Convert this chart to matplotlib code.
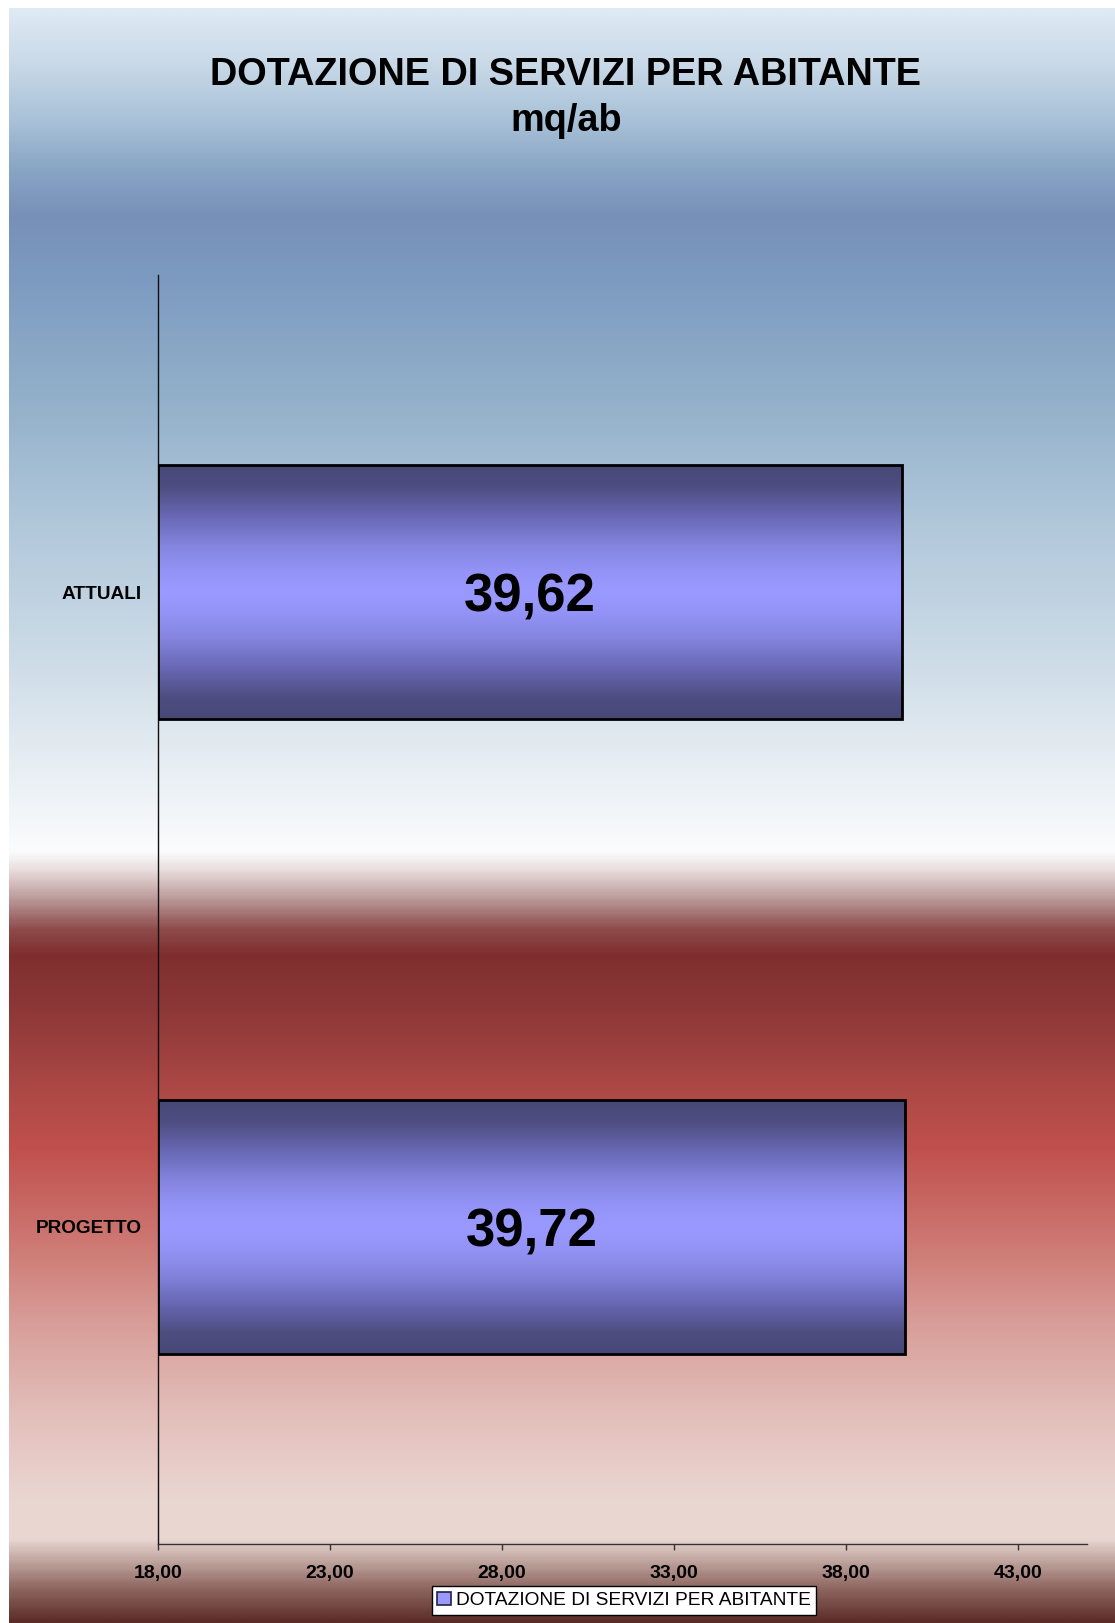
import numpy as np
import matplotlib
matplotlib.use("Agg")
import matplotlib.pyplot as plt
from matplotlib.colors import LinearSegmentedColormap
from matplotlib.patches import Rectangle, Patch
from matplotlib.ticker import FuncFormatter, FixedLocator

# ---- data ----
categories = ["ATTUALI", "PROGETTO"]
values = [39.62, 39.72]
series_name = "DOTAZIONE DI SERVIZI PER ABITANTE"
title_line1 = "DOTAZIONE DI SERVIZI PER ABITANTE"
title_line2 = "mq/ab"
x_ticks = [18, 23, 28, 33, 38, 43]
x_min, x_max = 18, 45

W, H = 1115, 1623
DPI = 100
plt.rcParams['font.family'] = ['Liberation Sans', 'DejaVu Sans']

fig = plt.figure(figsize=(W / DPI, H / DPI), dpi=DPI, facecolor="white")

def fx(px):
    return px / W

def fy(py):
    return 1 - py / H

# ---- background gradient panel ----
bg_top, bg_left = 8, 9
stops_px = [
    (8, "#dfeaf4"), (60, "#cadae8"), (120, "#a8c1d7"), (170, "#88a4c5"),
    (215, "#7790b8"), (280, "#7d9bc0"), (400, "#93b0ca"), (520, "#b0c7da"),
    (650, "#cbdae6"), (760, "#e6edf3"), (852, "#fbfcfd"), (872, "#e7d9d9"),
    (900, "#b99696"), (930, "#8e4a4a"), (955, "#7f2e2e"), (1010, "#8d3838"),
    (1100, "#b04a47"), (1150, "#c0504d"), (1250, "#ce7b76"), (1330, "#d9a09b"),
    (1420, "#e3c0bc"), (1500, "#ead6d1"), (1540, "#e9d7d1"), (1560, "#c4aaa4"),
    (1590, "#8e6660"), (1623, "#5c2c28"),
]
span = H - bg_top
bg_cmap = LinearSegmentedColormap.from_list(
    "bg", [((p - bg_top) / span, c) for p, c in stops_px], N=1024)
bg_ax = fig.add_axes([fx(bg_left), 0, 1 - fx(bg_left), span / H], zorder=0)
grad = np.linspace(0, 1, 1200).reshape(-1, 1)
bg_ax.imshow(grad, cmap=bg_cmap, aspect="auto", extent=[0, 1, 1, 0],
             interpolation="bilinear")
bg_ax.set_xlim(0, 1)
bg_ax.set_ylim(1, 0)
bg_ax.axis("off")

# ---- main axes ----
ax_left, ax_right, ax_top, ax_bottom = 157.7, 1087, 275, 1544
ax = fig.add_axes([fx(ax_left), fy(ax_bottom), fx(ax_right - ax_left),
                   (ax_bottom - ax_top) / H], zorder=1)
ax.set_facecolor("none")

ypos = np.arange(len(categories))
bars = ax.barh(ypos, [v - x_min for v in values], left=x_min, height=0.4,
               color="#9999ff", edgecolor="none", zorder=2)

bar_cmap = LinearSegmentedColormap.from_list("bar", [
    (0.0, "#474777"), (0.08, "#4d4d80"), (0.2, "#6868b5"), (0.32, "#8585e0"),
    (0.42, "#9494f8"), (0.5, "#9999ff"), (0.58, "#9494f8"), (0.68, "#8585e0"),
    (0.8, "#6868b5"), (0.92, "#4d4d80"), (1.0, "#474777")])
bgrad = np.linspace(0, 1, 400).reshape(-1, 1)
for p in bars.patches:
    x0, y0, w, h = p.get_x(), p.get_y(), p.get_width(), p.get_height()
    im = ax.imshow(bgrad, cmap=bar_cmap, aspect="auto",
                   extent=[x0, x0 + w, y0 + h, y0], zorder=3,
                   interpolation="bilinear")
    im.set_clip_path(p)
    ax.add_patch(Rectangle((x0, y0), w, h, fill=False, edgecolor="black",
                           linewidth=2, zorder=4))

ax.set_xlim(x_min, x_max)
ax.set_ylim(len(categories) - 0.5, -0.5)

labels = [f"{v:.2f}".replace(".", ",") for v in values]
texts = ax.bar_label(bars, labels=labels, label_type="center", fontsize=38,
                     fontweight="bold", color="black", zorder=5)
for t in texts:
    t.set_va("center_baseline")

ax.set_yticks(ypos)
ax.set_yticklabels(categories, fontsize=13.7, fontweight="bold")
ax.tick_params(axis="y", length=0, pad=11.5)

ax.xaxis.set_major_locator(FixedLocator(x_ticks))
ax.xaxis.set_major_formatter(FuncFormatter(lambda v, _: f"{v:.2f}".replace(".", ",")))
ax.tick_params(axis="x", direction="out", length=4.5, width=1, color="#333333",
               labelsize=14, pad=10.5)
for t in ax.get_xticklabels():
    t.set_fontweight("bold")

for s in ["top", "right"]:
    ax.spines[s].set_visible(False)
ax.spines["left"].set_color("#111111")
ax.spines["bottom"].set_color("#333333")
ax.spines["left"].set_linewidth(1)
ax.spines["bottom"].set_linewidth(1)

# ---- title ----
fig.text(fx(566), fy(85), title_line1, ha="center", va="baseline",
         fontsize=27.3, fontweight="bold", color="black")
fig.text(fx(566), fy(131), title_line2, ha="center", va="baseline",
         fontsize=27.3, fontweight="bold", color="black")

# ---- legend ----
handle = Patch(facecolor="#9999ff", edgecolor="#222244", linewidth=1.2)
leg = fig.legend([handle], [series_name], loc="center",
                 bbox_to_anchor=(fx(624), fy(1600.5)), frameon=True,
                 fancybox=False, edgecolor="black", facecolor="white",
                 framealpha=1, fontsize=13.8, handlelength=0.7,
                 handleheight=0.7, handletextpad=0.25, borderpad=0.28,
                 borderaxespad=0)
leg.get_frame().set_linewidth(1)
leg.set_zorder(10)

fig.savefig("out.png", dpi=DPI, facecolor="white")
